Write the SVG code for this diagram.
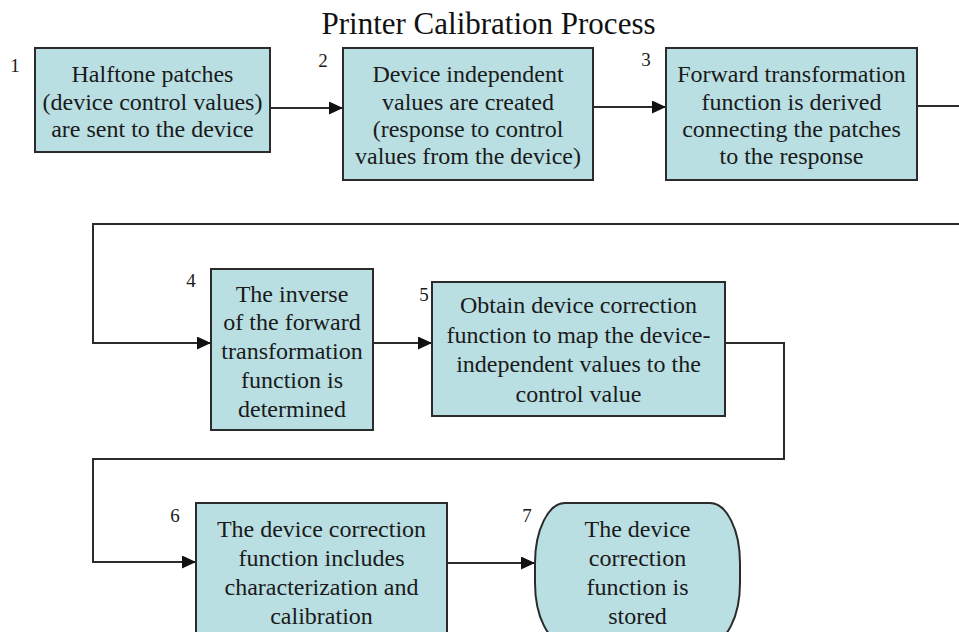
<svg xmlns="http://www.w3.org/2000/svg" width="959" height="632" viewBox="0 0 959 632">
<defs>
<marker id="ah" markerUnits="userSpaceOnUse" markerWidth="14" markerHeight="13" refX="14" refY="6.5" orient="auto">
<path d="M0,0 L14,6.5 L0,13 Z" fill="#111"/>
</marker>
<style>
.box{fill:#b9dfe3;stroke:#2b2b2b;stroke-width:2}
.t{font-family:"Liberation Serif","Times New Roman",serif;font-size:24px;fill:#1a1a1a;text-anchor:middle}
.n{font-family:"Liberation Serif","Times New Roman",serif;font-size:19px;fill:#1a1a1a;text-anchor:middle}
.title{font-family:"Liberation Serif","Times New Roman",serif;font-size:31px;fill:#111;text-anchor:middle}
.c{fill:none;stroke:#2b2b2b;stroke-width:2}
</style>
</defs>
<rect x="0" y="0" width="959" height="632" fill="#ffffff"/>
<text class="title" x="488.5" y="34">Printer Calibration Process</text>

<g id="connectors">
<path class="c" d="M270,108 L343,108" marker-end="url(#ah)"/>
<path class="c" d="M593,107 L666,107" marker-end="url(#ah)"/>
<path class="c" d="M917,106 L962,106"/>
<path class="c" d="M962,224 L93,224 L93,343 L211,343" marker-end="url(#ah)"/>
<path class="c" d="M373,343 L432,343" marker-end="url(#ah)"/>
<path class="c" d="M725,343 L784,343 L784,459 L93,459 L93,562 L196,562" marker-end="url(#ah)"/>
<path class="c" d="M447,563 L535,563" marker-end="url(#ah)"/>
</g>

<g id="node1">
<rect class="box" x="35" y="48" width="235" height="104"/>
<text class="n" x="15" y="72">1</text>
<text class="t" x="152.5" y="82">Halftone patches</text>
<text class="t" x="152.5" y="109.5">(device control values)</text>
<text class="t" x="152.5" y="137">are sent to the device</text>
</g>

<g id="node2">
<rect class="box" x="343" y="48" width="250" height="132"/>
<text class="n" x="323" y="67">2</text>
<text class="t" x="468" y="82">Device independent</text>
<text class="t" x="468" y="109.5">values are created</text>
<text class="t" x="468" y="137">(response to control</text>
<text class="t" x="468" y="164">values from the device)</text>
</g>

<g id="node3">
<rect class="box" x="666" y="48" width="251" height="132"/>
<text class="n" x="646" y="66">3</text>
<text class="t" x="791.5" y="82">Forward transformation</text>
<text class="t" x="791.5" y="109.5">function is derived</text>
<text class="t" x="791.5" y="137">connecting the patches</text>
<text class="t" x="791.5" y="164">to the response</text>
</g>

<g id="node4">
<rect class="box" x="211" y="269" width="162" height="161"/>
<text class="n" x="191" y="287">4</text>
<text class="t" x="292" y="301.5">The inverse</text>
<text class="t" x="292" y="330.25">of the forward</text>
<text class="t" x="292" y="359">transformation</text>
<text class="t" x="292" y="387.75">function is</text>
<text class="t" x="292" y="416.5">determined</text>
</g>

<g id="node5">
<rect class="box" x="432" y="282" width="293" height="134"/>
<text class="n" x="424" y="301">5</text>
<text class="t" x="578.5" y="313">Obtain device correction</text>
<text class="t" x="578.5" y="342.5">function to map the device-</text>
<text class="t" x="578.5" y="372">independent values to the</text>
<text class="t" x="578.5" y="401.5">control value</text>
</g>

<g id="node6">
<rect class="box" x="196" y="503" width="251" height="140"/>
<text class="n" x="175" y="522">6</text>
<text class="t" x="321.5" y="537">The device correction</text>
<text class="t" x="321.5" y="566">function includes</text>
<text class="t" x="321.5" y="595">characterization and</text>
<text class="t" x="321.5" y="623.5">calibration</text>
</g>

<g id="node7">
<rect class="box" x="535" y="503" width="205" height="140" rx="30" ry="60"/>
<text class="n" x="527" y="522">7</text>
<text class="t" x="637.5" y="537">The device</text>
<text class="t" x="637.5" y="566">correction</text>
<text class="t" x="637.5" y="595">function is</text>
<text class="t" x="637.5" y="623.5">stored</text>
</g>
</svg>
